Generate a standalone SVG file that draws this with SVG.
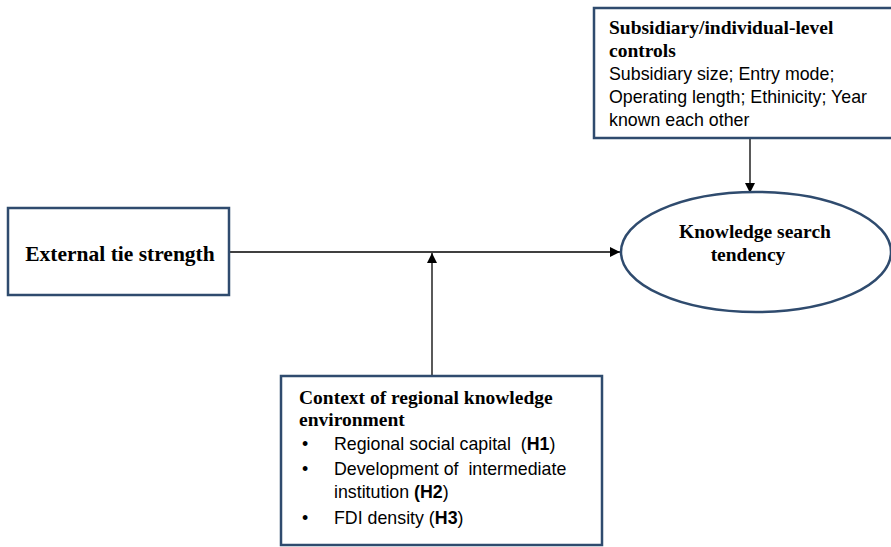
<svg xmlns="http://www.w3.org/2000/svg" width="891" height="547" viewBox="0 0 891 547">
<style>
.box{fill:#fff;stroke:#2f4b6e;stroke-width:2.5}
.line{stroke:#000;stroke-width:1.3;fill:none}
.h{font-family:"Liberation Serif","Times New Roman",serif;font-weight:bold;fill:#000;font-size:19.5px}
.b{font-family:"Liberation Sans",Arial,sans-serif;font-size:17.8px;fill:#000;white-space:pre}
</style>
<defs>
<marker id="arr" viewBox="0 0 10 10" refX="10" refY="5" markerWidth="10" markerHeight="10" markerUnits="userSpaceOnUse" orient="auto">
<path d="M0,0 L10,5 L0,10 z" fill="#000"/>
</marker>
</defs>
<g id="connectors">
<line class="line" x1="229" y1="252" x2="620" y2="252" marker-end="url(#arr)"/>
<line class="line" x1="432" y1="376" x2="432" y2="253" marker-end="url(#arr)"/>
<line class="line" x1="750" y1="138" x2="750" y2="193" marker-end="url(#arr)"/>
</g>
<g id="controls">
<rect class="box" x="594" y="8" width="305" height="130"/>
<text class="h" x="609" y="34">Subsidiary/individual-level</text>
<text class="h" x="609" y="57">controls</text>
<text class="b" x="609" y="80">Subsidiary size; Entry mode;</text>
<text class="b" x="609" y="103">Operating length; Ethinicity; Year</text>
<text class="b" x="609" y="126">known each other</text>
</g>
<g id="external">
<rect class="box" x="8" y="208" width="221" height="87"/>
<text class="h" style="font-size:21.5px" x="120" y="261" text-anchor="middle">External tie strength</text>
</g>
<g id="knowledge">
<ellipse class="box" cx="756" cy="252" rx="135" ry="60"/>
<text class="h" x="755" y="238" text-anchor="middle">Knowledge search</text>
<text class="h" x="748" y="261" text-anchor="middle">tendency</text>
</g>
<g id="context">
<rect class="box" x="281" y="376" width="321" height="169"/>
<text class="h" x="299" y="404">Context of regional knowledge</text>
<text class="h" x="299" y="426">environment</text>
<text class="b" x="302" y="450">•</text>
<text class="b" x="334" y="450" xml:space="preserve">Regional social capital  (<tspan font-weight="bold">H1</tspan>)</text>
<text class="b" x="302" y="475">•</text>
<text class="b" x="334" y="475" xml:space="preserve">Development of  intermediate</text>
<text class="b" x="334" y="498">institution <tspan font-weight="bold">(H2</tspan>)</text>
<text class="b" x="302" y="524">•</text>
<text class="b" x="334" y="524">FDI density (<tspan font-weight="bold">H3</tspan>)</text>
</g>
</svg>
